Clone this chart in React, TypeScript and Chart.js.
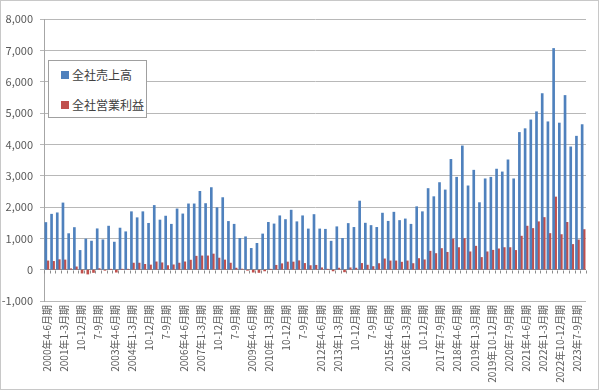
import React, { useEffect, useRef } from "react";
import { Chart, registerables } from "chart.js";

Chart.register(...registerables);

// Tick labels shown on the horizontal axis (every third quarter)
const tickLabels: string[] = [
  "2000年4-6月期", "2001年1-3月期", "10-12月期", "7-9月期",
  "2003年4-6月期", "2004年1-3月期", "10-12月期", "7-9月期",
  "2006年4-6月期", "2007年1-3月期", "10-12月期", "7-9月期",
  "2009年4-6月期", "2010年1-3月期", "10-12月期", "7-9月期",
  "2012年4-6月期", "2013年1-3月期", "10-12月期", "7-9月期",
  "2015年4-6月期", "2016年1-3月期", "10-12月期", "2017年7-9月期",
  "2018年4-6月期", "2019年1-3月期", "2019年10-12月期", "2020年7-9月期",
  "2021年4-6月期", "2022年1-3月期", "2022年10-12月期", "2023年7-9月期",
];

// 全社売上高 (quarterly, 2000年4-6月期 .. 2023年10-12月期)
const sales: number[] = [
  1505, 1770, 1815, 2130, 1150, 1345, 615, 980, 912, 1305,
  955, 1390, 880, 1328, 1210, 1850, 1658, 1850, 1480, 2050,
  1585, 1710, 1450, 1940, 1780, 2100, 2100, 2500, 2110, 2620,
  1980, 2300, 1540, 1450, 1000, 1050, 680, 840, 1140, 1510,
  1460, 1720, 1600, 1900, 1530, 1720, 1300, 1760, 1300, 1290,
  910, 1370, 1000, 1475, 1350, 2190, 1485, 1410, 1350, 1805,
  1545, 1835, 1570, 1620, 1450, 2010, 1850, 2590, 2330, 2780,
  2545, 3520, 2950, 3950, 2675, 3175, 2140, 2900, 2950, 3210,
  3120, 3505, 2900, 4380, 4500, 4780, 5040, 5620, 4720, 7060,
  4680, 5560, 3920, 4260, 4630,
];

// 全社営業利益
const profit: number[] = [
  280, 265, 320, 310, 30, 90, -110, -140, -90, 35,
  -20, 10, -80, 10, 15, 210, 210, 170, 150, 250,
  220, 130, 155, 210, 250, 305, 430, 440, 440, 500,
  370, 310, 210, 50, 20, -20, -80, -90, -40, 10,
  140, 190, 245, 245, 285, 200, 130, 140, 60, 10,
  -40, 50, -70, 60, 50, 200, 145, 100, 195, 345,
  280, 280, 240, 280, 195, 355, 315, 590, 515, 675,
  555, 980, 705, 995, 570, 750, 390, 570, 620, 665,
  705, 705, 615, 1070, 1390, 1315, 1530, 1665, 1155, 2320,
  1120, 1510, 805, 950, 1280,
];

const seriesNames = ["全社売上高", "全社営業利益"];
const seriesColors = ["#4F81BD", "#C0504D"];

const categories: string[] = sales.map((_, i) =>
  i % 3 === 0 && tickLabels[i / 3] !== undefined ? tickLabels[i / 3] : ""
);

const FONT = "'Noto Sans CJK JP', 'Noto Sans', sans-serif";

export default function App() {
  const canvasRef = useRef<HTMLCanvasElement | null>(null);

  useEffect(() => {
    document.body.style.margin = "0";
    const canvas = canvasRef.current;
    if (!canvas) return;

    const decor = {
      id: "decor",
      afterDatasetsDraw(chart: any) {
        const { ctx, chartArea, scales } = chart;
        const y0 = scales.y.getPixelForValue(0);
        const n = categories.length;
        const step = (chartArea.right - chartArea.left) / n;
        ctx.save();
        ctx.strokeStyle = "#8c8c8c";
        ctx.lineWidth = 1;
        ctx.beginPath();
        for (let k = 0; k <= n; k++) {
          const x = Math.round(chartArea.left + k * step) + 0.5;
          ctx.moveTo(x, Math.round(y0) + 0.5);
          ctx.lineTo(x, Math.round(y0) + 3.5);
        }
        ctx.stroke();
        ctx.restore();
      },
      afterDraw(chart: any) {
        const { ctx } = chart;
        ctx.save();
        ctx.strokeStyle = "#c8c8c8";
        ctx.lineWidth = 1;
        ctx.strokeRect(0.5, 0.5, 598, 389);
        ctx.restore();
      },
    };

    const chart = new Chart(canvas, {
      type: "bar",
      data: {
        labels: categories,
        datasets: [
          {
            label: seriesNames[0],
            data: sales,
            backgroundColor: seriesColors[0],
            barThickness: 2,
          },
          {
            label: seriesNames[1],
            data: profit,
            backgroundColor: seriesColors[1],
            barThickness: 2,
          },
        ],
      },
      options: {
        responsive: false,
        animation: false,
        layout: { padding: { top: 19, right: 14, left: 0, bottom: 0 } },
        plugins: {
          legend: { display: false },
          tooltip: { enabled: false },
        },
        scales: {
          x: {
            type: "category",
            offset: true,
            grid: { display: false, drawTicks: false },
            border: { display: false },
            ticks: {
              autoSkip: false,
              minRotation: 90,
              maxRotation: 90,
              padding: 4,
              color: "#595959",
              font: { family: FONT, size: 10 },
            },
            afterFit: (scale: any) => {
              scale.height = 90;
            },
          },
          y: {
            min: -1000,
            max: 8000,
            ticks: {
              stepSize: 1000,
              padding: 7,
              color: "#595959",
              font: { family: FONT, size: 11 },
              callback: (v: any) => Number(v).toLocaleString("en-US"),
            },
            grid: {
              color: (c: any) => (c.tick && c.tick.value === 0 ? "#8c8c8c" : "#b8b8b8"),
              tickLength: 4,
              tickColor: "#b8b8b8",
            },
            border: { display: true, color: "#a6a6a6" },
            afterFit: (scale: any) => {
              scale.width = 44;
            },
          },
        },
      },
      plugins: [decor],
    });

    return () => chart.destroy();
  }, []);

  const legendItem = (i: number, top: number) => (
    <div
      style={{
        position: "absolute",
        left: 12,
        top,
        display: "flex",
        alignItems: "center",
        fontFamily: FONT,
        fontSize: 12,
        color: "#404040",
        whiteSpace: "nowrap",
      }}
    >
      <span
        style={{
          display: "inline-block",
          width: 8,
          height: 8,
          background: seriesColors[i],
          marginRight: 3,
        }}
      />
      <span>{seriesNames[i]}</span>
    </div>
  );

  return (
    <div style={{ position: "relative", width: 600, height: 391, background: "#fff" }}>
      <canvas ref={canvasRef} width={600} height={391} style={{ display: "block" }} />
      <div
        style={{
          position: "absolute",
          left: 48,
          top: 60,
          width: 99,
          height: 58,
          background: "#fff",
          border: "1px solid #a0a0a0",
          boxSizing: "border-box",
        }}
      >
        {legendItem(0, 5)}
        {legendItem(1, 35)}
      </div>
    </div>
  );
}
